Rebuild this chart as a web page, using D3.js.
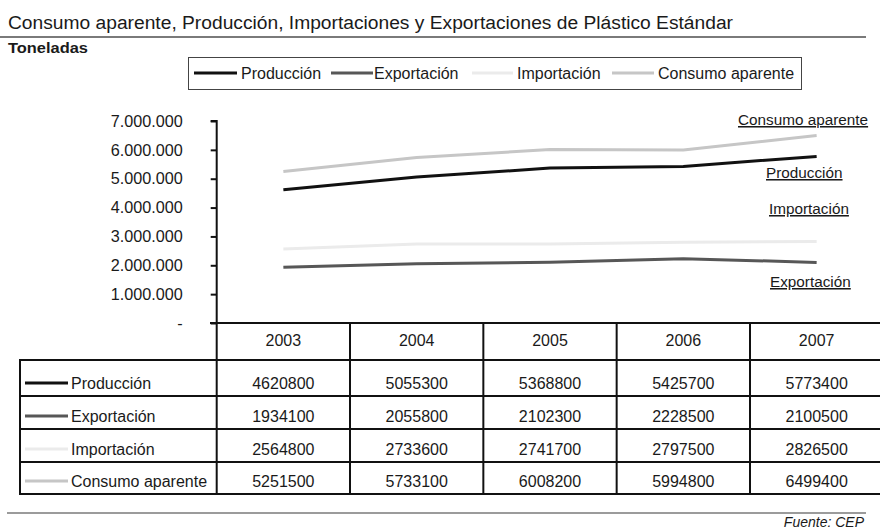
<!DOCTYPE html>
<html>
<head>
<meta charset="utf-8">
<script src="https://cdn.jsdelivr.net/npm/d3@7"></script>
<style>
  html, body { margin: 0; padding: 0; background: #fff; overflow: hidden; }
  svg { display: block; font-family: "Liberation Sans", Arial, sans-serif; }
</style>
</head>
<body>
<svg id="chart" width="880" height="528"></svg>
<script>
// Plastic market series, tonnes per year
const years = ["2003", "2004", "2005", "2006", "2007"];
const produccion = [4620800, 5055300, 5368800, 5425700, 5773400];
const exportacion = [1934100, 2055800, 2102300, 2228500, 2100500];
const importacion = [2564800, 2733600, 2741700, 2797500, 2826500];
const consumo = [5251500, 5733100, 6008200, 5994800, 6499400];
const seriesNames = ["Producción", "Exportación", "Importación", "Consumo aparente"];
const yTicks = [0, 1000000, 2000000, 3000000, 4000000, 5000000, 6000000, 7000000];

const seriesColors = ["#111111", "#575757", "#ebebeb", "#c6c6c6"];
const series = [produccion, exportacion, importacion, consumo].map((values, i) => ({
  name: seriesNames[i], values, color: seriesColors[i]
}));

const svg = d3.select("#chart");
const ink = "#1a1a1a";

// Title block
svg.append("text").attr("x", 8).attr("y", 29)
  .attr("font-size", 18).attr("fill", ink)
  .attr("textLength", 725).attr("lengthAdjust", "spacingAndGlyphs")
  .text("Consumo aparente, Producción, Importaciones y Exportaciones de Plástico Estándar");
svg.append("line").attr("x1", 0).attr("x2", 866).attr("y1", 37).attr("y2", 37)
  .attr("stroke", "#7a7a7a").attr("stroke-width", 2);
svg.append("text").attr("x", 8).attr("y", 53)
  .attr("font-size", 15.5).attr("font-weight", "bold").attr("fill", ink)
  .attr("textLength", 80).attr("lengthAdjust", "spacingAndGlyphs")
  .text("Toneladas");

// Legend
const legend = svg.append("g");
legend.append("rect").attr("x", 188.5).attr("y", 57.5).attr("width", 613).attr("height", 32)
  .attr("fill", "none").attr("stroke", "#444").attr("stroke-width", 1);
const legendPos = [
  { x1: 194, x2: 237, tx: 241 },
  { x1: 331, x2: 373, tx: 374 },
  { x1: 472, x2: 513, tx: 517 },
  { x1: 612, x2: 654, tx: 658 }
];
series.forEach((s, i) => {
  const p = legendPos[i];
  legend.append("line").attr("x1", p.x1).attr("x2", p.x2).attr("y1", 73).attr("y2", 73)
    .attr("stroke", s.color).attr("stroke-width", 3);
  legend.append("text").attr("x", p.tx).attr("y", 78.5)
    .attr("font-size", 16).attr("fill", ink).text(s.name);
});

// Scales
const x = d3.scaleBand().domain(years).range([216.7, 883.3]).padding(0);
const y = d3.scaleLinear().domain([0, 7000000]).range([323, 121]);
const cx = d => x(d) + x.bandwidth() / 2;

const locale = d3.formatLocale({ decimal: ",", thousands: ".", grouping: [3], currency: ["", ""] });
const fmt = locale.format(",d");

// Y axis
const yAxis = d3.axisLeft(y).tickValues(yTicks).tickSize(6).tickPadding(28)
  .tickFormat(d => d === 0 ? "-" : fmt(d));
const gy = svg.append("g").attr("transform", "translate(216.7,0)").call(yAxis);
gy.select(".domain").attr("stroke", "#111").attr("stroke-width", 2)
  .attr("d", `M-6,${y(7000000)}H0V${y(0)}`);
gy.selectAll(".tick line").attr("stroke", "#111").attr("stroke-width", 2);
gy.selectAll(".tick text").attr("font-size", 16.2).attr("fill", ink)
  .attr("font-family", "Liberation Sans, Arial, sans-serif");

// Lines
const line = d3.line().x((d, i) => cx(years[i])).y(d => y(d));
svg.append("g").selectAll("path").data(series).join("path")
  .attr("d", s => line(s.values))
  .attr("fill", "none").attr("stroke", s => s.color).attr("stroke-width", 3)
  .attr("stroke-linejoin", "round");

// Series annotations on the right
const annotations = [
  { name: "Consumo aparente", x: 738, y: 125 },
  { name: "Producción", x: 766, y: 178 },
  { name: "Importación", x: 769, y: 214 },
  { name: "Exportación", x: 770, y: 287 }
];
svg.append("g").selectAll("text").data(annotations).join("text")
  .attr("x", d => d.x).attr("y", d => d.y)
  .attr("font-size", 15.3).attr("fill", ink)
  .attr("text-decoration", "underline").text(d => d.name);

// Data table
const table = svg.append("g");
const rowEdges = [323, 360, 396, 429, 462, 494];
const tableLeft = 20, tableRight = 883.3;
function hline(x1, x2, yy) {
  table.append("line").attr("x1", x1).attr("x2", x2).attr("y1", yy).attr("y2", yy)
    .attr("stroke", "#111").attr("stroke-width", 2);
}
function vline(xx, y1, y2) {
  table.append("line").attr("x1", xx).attr("x2", xx).attr("y1", y1).attr("y2", y2)
    .attr("stroke", "#111").attr("stroke-width", 2);
}
hline(210, tableRight, rowEdges[0]);
rowEdges.slice(1).forEach(ry => hline(tableLeft - 1, tableRight, ry));
vline(tableLeft, rowEdges[1], rowEdges[5]);
years.forEach(yr => vline(x(yr), rowEdges[0], rowEdges[5]));

// Header row
table.selectAll("text.year").data(years).join("text").attr("class", "year")
  .attr("x", d => cx(d)).attr("y", rowEdges[1] - 14)
  .attr("text-anchor", "middle").attr("font-size", 16).attr("fill", ink).text(d => d);

// Body rows
series.forEach((s, i) => {
  const base = rowEdges[i + 2] - 7;
  table.append("line").attr("x1", 25).attr("x2", 68).attr("y1", base - 6).attr("y2", base - 6)
    .attr("stroke", s.color).attr("stroke-width", 3);
  table.append("text").attr("x", 71).attr("y", base)
    .attr("font-size", 16).attr("fill", ink).text(s.name);
  table.selectAll(null).data(s.values).join("text")
    .attr("x", (d, j) => cx(years[j])).attr("y", base)
    .attr("text-anchor", "middle").attr("font-size", 16).attr("fill", ink)
    .text(d => String(d));
});

// Footer
svg.append("line").attr("x1", 7).attr("x2", 866).attr("y1", 513).attr("y2", 513)
  .attr("stroke", "#7a7a7a").attr("stroke-width", 1.5);
svg.append("text").attr("x", 864).attr("y", 526.5).attr("text-anchor", "end")
  .attr("font-size", 14).attr("font-style", "italic").attr("fill", ink).text("Fuente: CEP");
</script>
</body>
</html>
